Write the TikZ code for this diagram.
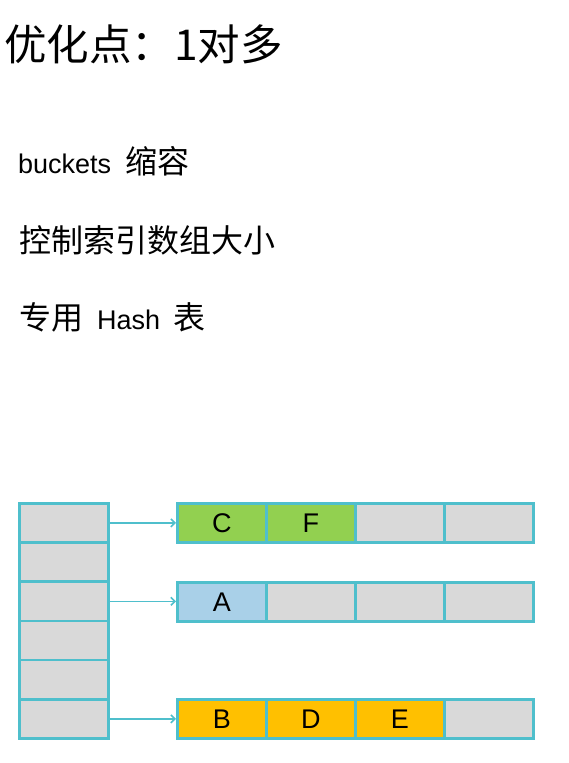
\documentclass[tikz,border=0pt]{standalone}
\usepackage{fontspec}
\setmainfont{Noto Sans CJK SC}
\newfontfamily\latin{Liberation Sans}
\usetikzlibrary{arrows.meta}
\definecolor{edge}{HTML}{4FBFCC}
\definecolor{cellgray}{HTML}{D9D9D9}
\definecolor{cgreen}{HTML}{92D050}
\definecolor{cblue}{HTML}{A9D0E8}
\definecolor{corange}{HTML}{FFC000}
\tikzset{
  cell/.style={draw=edge, line width=2.6pt, fill=cellgray, minimum width=89pt, minimum height=39.2pt, inner sep=0pt, font=\latin\fontsize{27}{27}\selectfont, anchor=north west},
  txt/.style={anchor=base west, inner sep=0pt},
  body/.style={txt, font=\fontsize{32}{32}\selectfont},
  link/.style={draw=edge, line width=1.6pt, -{Straight Barb[length=4pt,width=8pt]}}
}
\begin{document}
\begin{tikzpicture}[x=1pt,y=-1pt]
\useasboundingbox (0,0) rectangle (569,763);
\fill[white] (0,0) rectangle (569,763);
\node[txt, font=\fontsize{42.5}{42.5}\selectfont] (title) at (4,60) {优化点：1对多};
\node[body] (l1) at (18,173) {{\latin\fontsize{27}{27}\selectfont buckets}\hspace{14pt}缩容};
\node[body] (l2) at (19,252) {控制索引数组大小};
\node[body] (l3) at (19,329) {专用\hspace{14pt}{\latin\fontsize{27}{27}\selectfont Hash}\hspace{13pt}表};
% left index array
\node[cell] (b0) at (18,502) {};
\node[cell] (b1) at (18,541.2) {};
\node[cell] (b2) at (18,580.4) {};
\node[cell] (b3) at (18,619.6) {};
\node[cell] (b4) at (18,658.8) {};
\node[cell] (b5) at (18,698) {};
% row 1
\node[cell, fill=cgreen] (r1a) at (176,502) {C};
\node[cell, fill=cgreen] (r1b) at (265,502) {F};
\node[cell] (r1c) at (354,502) {};
\node[cell] (r1d) at (443,502) {};
% row 2
\node[cell, fill=cblue] (r2a) at (176,581) {A};
\node[cell] (r2b) at (265,581) {};
\node[cell] (r2c) at (354,581) {};
\node[cell] (r2d) at (443,581) {};
% row 3
\node[cell, fill=corange] (r3a) at (176,698) {B};
\node[cell, fill=corange] (r3b) at (265,698) {D};
\node[cell, fill=corange] (r3c) at (354,698) {E};
\node[cell] (r3d) at (443,698) {};
\draw[link] (b0.east) -- (r1a.west);
\draw[link] (b2.east) -- (b2.east -| r2a.west);
\draw[link] (b5.east) -- (r3a.west);
\end{tikzpicture}
\end{document}
